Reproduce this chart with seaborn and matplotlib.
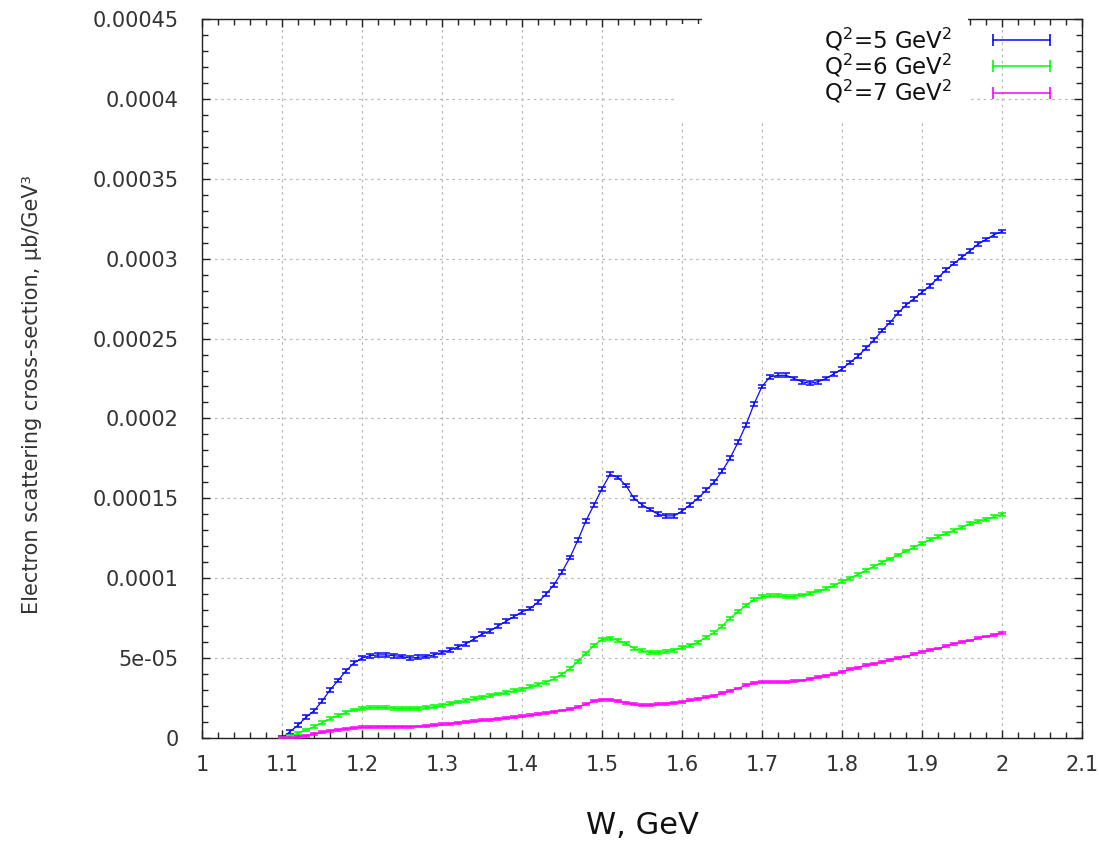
import numpy as np
import pandas as pd
import matplotlib
matplotlib.use("Agg")
import matplotlib.pyplot as plt
from matplotlib.lines import Line2D
from matplotlib.patches import Rectangle
from matplotlib.ticker import MultipleLocator, FixedLocator
import seaborn as sns

# ---------------- data (units of 1e-5 ub/GeV^3) ----------------
W = [round(1.10 + 0.01 * i, 2) for i in range(91)]

q5 = [0.0, 0.4, 0.8, 1.3, 1.7, 2.3, 3.0, 3.6, 4.2, 4.7,
      5.0, 5.15, 5.2, 5.2, 5.15, 5.1, 5.0, 5.05, 5.1, 5.2,
      5.35, 5.5, 5.7, 5.9, 6.2, 6.5, 6.7, 7.0, 7.3, 7.6,
      7.9, 8.1, 8.5, 9.0, 9.6, 10.4, 11.3, 12.4, 13.6, 14.6,
      15.6, 16.5, 16.3, 15.8, 15.0, 14.6, 14.3, 14.0, 13.9, 13.9,
      14.2, 14.6, 15.0, 15.5, 16.0, 16.7, 17.5, 18.5, 19.6, 20.9,
      22.0, 22.6, 22.7, 22.7, 22.5, 22.3, 22.2, 22.3, 22.5, 22.8,
      23.1, 23.5, 23.9, 24.4, 24.9, 25.5, 26.0, 26.6, 27.1, 27.5,
      27.9, 28.3, 28.8, 29.3, 29.7, 30.1, 30.5, 30.9, 31.2, 31.5,
      31.7]

q6 = [0.0, 0.1, 0.3, 0.5, 0.7, 0.95, 1.2, 1.4, 1.6, 1.75,
      1.85, 1.9, 1.9, 1.9, 1.85, 1.85, 1.85, 1.85, 1.9, 1.95,
      2.05, 2.15, 2.25, 2.35, 2.45, 2.55, 2.65, 2.75, 2.85, 2.95,
      3.05, 3.2, 3.35, 3.5, 3.7, 4.0, 4.35, 4.8, 5.3, 5.8,
      6.15, 6.25, 6.1, 5.9, 5.6, 5.45, 5.35, 5.35, 5.4, 5.5,
      5.65, 5.8, 6.0, 6.3, 6.6, 7.0, 7.5, 7.9, 8.3, 8.65,
      8.85, 8.9, 8.9, 8.85, 8.85, 8.95, 9.05, 9.2, 9.35, 9.55,
      9.8, 10.0, 10.25, 10.5, 10.75, 11.0, 11.2, 11.45, 11.7, 11.95,
      12.2, 12.4, 12.6, 12.8, 13.0, 13.2, 13.4, 13.55, 13.7, 13.85,
      14.0]

q7 = [0.0, 0.02, 0.08, 0.15, 0.25, 0.35, 0.45, 0.52, 0.58, 0.63,
      0.66, 0.68, 0.7, 0.7, 0.7, 0.7, 0.7, 0.72, 0.75, 0.8,
      0.85, 0.9, 0.95, 1.0, 1.05, 1.1, 1.15, 1.2, 1.25, 1.3,
      1.35, 1.42, 1.5, 1.58, 1.65, 1.72, 1.8, 1.95, 2.1, 2.3,
      2.4, 2.4, 2.3, 2.2, 2.1, 2.05, 2.05, 2.1, 2.15, 2.2,
      2.25, 2.35, 2.45, 2.55, 2.65, 2.8, 2.95, 3.1, 3.3, 3.45,
      3.5, 3.5, 3.5, 3.5, 3.55, 3.6, 3.7, 3.8, 3.9, 4.0,
      4.15, 4.3, 4.4, 4.55, 4.65, 4.75, 4.9, 5.0, 5.1, 5.25,
      5.4, 5.5, 5.6, 5.75, 5.9, 6.0, 6.1, 6.25, 6.35, 6.45,
      6.6]

# error bar half-widths (units of 1e-5)
err5 = 0.12
err6 = 0.09
err7 = 0.06

labels = ["Q$^2$=5 GeV$^2$", "Q$^2$=6 GeV$^2$", "Q$^2$=7 GeV$^2$"]
colors = ["#0a0aff", "#00ff00", "#ff00ff"]

x_ticks = [1.0, 1.1, 1.2, 1.3, 1.4, 1.5, 1.6, 1.7, 1.8, 1.9, 2.0, 2.1]
x_ticklabels = ["1", "1.1", "1.2", "1.3", "1.4", "1.5", "1.6", "1.7", "1.8", "1.9", "2", "2.1"]
y_ticks = [0, 5e-5, 1e-4, 1.5e-4, 2e-4, 2.5e-4, 3e-4, 3.5e-4, 4e-4, 4.5e-4]
y_ticklabels = ["0", "5e-05", "0.0001", "0.00015", "0.0002", "0.00025",
                "0.0003", "0.00035", "0.0004", "0.00045"]

scale = 1e-5
series = [(q5, err5), (q6, err6), (q7, err7)]

frames = []
for lab, (vals, e) in zip(labels, series):
    frames.append(pd.DataFrame({"W": W, "sigma": np.array(vals) * scale, "Q2": lab}))
df = pd.concat(frames, ignore_index=True)

# ---------------- plot ----------------
sns.set_theme(style="ticks")
plt.rcParams["font.family"] = ["DejaVu Sans"]
plt.rcParams["mathtext.default"] = "regular"

fig = plt.figure(figsize=(10.99, 8.43), dpi=100)
ax = fig.add_axes([202 / 1099, 1 - 738 / 843, (1082 - 202) / 1099, (738 - 19) / 843])

sns.lineplot(data=df, x="W", y="sigma", hue="Q2", palette=colors,
             linewidth=0.9, ax=ax, legend=False, zorder=3)

for (vals, e), c in zip(series, colors):
    ax.errorbar(W, np.array(vals) * scale, yerr=e * scale, fmt="none",
                ecolor=c, elinewidth=1.1, capsize=3.2, capthick=1.1, zorder=3)

ax.set_xlim(1.0, 2.1)
ax.set_ylim(0, 4.5e-4)
ax.xaxis.set_major_locator(FixedLocator(x_ticks))
ax.set_xticklabels(x_ticklabels)
ax.xaxis.set_minor_locator(MultipleLocator(0.02))
ax.yaxis.set_major_locator(FixedLocator(y_ticks))
ax.set_yticklabels(y_ticklabels)
ax.yaxis.set_minor_locator(MultipleLocator(1e-5))

ax.tick_params(which="both", direction="in", top=True, right=True,
               colors="#222222", labelcolor="#333333")
ax.tick_params(which="major", length=6, width=1.0, labelsize=15, pad=12)
ax.tick_params(axis="y", which="major", pad=17)
ax.tick_params(which="minor", length=4, width=1.0)

for sp in ax.spines.values():
    sp.set_color("#222222")
    sp.set_linewidth(1.0)

ax.grid(True, which="major", color="#b8b8b8", linestyle=(0, (2, 3)), linewidth=0.9)
ax.set_axisbelow(True)

ax.set_xlabel("W, GeV", fontsize=22, color="#111111", labelpad=26)
ax.set_ylabel("Electron scattering cross-section, \u03bcb/GeV\u00b3", fontsize=15,
              color="#333333")
ax.yaxis.set_label_coords(-0.182, 0.477)

# white background behind the key text (as gnuplot's opaque key)
fig.patches.append(Rectangle((677 / 1099, 1 - 120 / 843), (968 - 677) / 1099, (120 - 24) / 843,
                             transform=fig.transFigure, facecolor="white",
                             edgecolor="none", zorder=1))
fig.patches.append(Rectangle((702 / 1099, 1 - 120 / 843), (968 - 702) / 1099, 120 / 843,
                             transform=fig.transFigure, facecolor="white",
                             edgecolor="none", zorder=1))

handles = [Line2D([], [], color=c, marker="|", markersize=9, markeredgewidth=1.2,
                  linewidth=1.1) for c in colors]
leg = fig.legend(handles, labels, loc="upper right",
                 bbox_to_anchor=(1057 / 1099, 1 - 26 / 843),
                 frameon=False, fontsize=16.5, numpoints=2, handlelength=3.1,
                 handletextpad=1.45, labelspacing=-0.04, markerfirst=False,
                 borderpad=0, borderaxespad=0)
leg.set_zorder(5)
for t in leg.get_texts():
    t.set_color("#111111")

fig.savefig("out.png", dpi=100)
